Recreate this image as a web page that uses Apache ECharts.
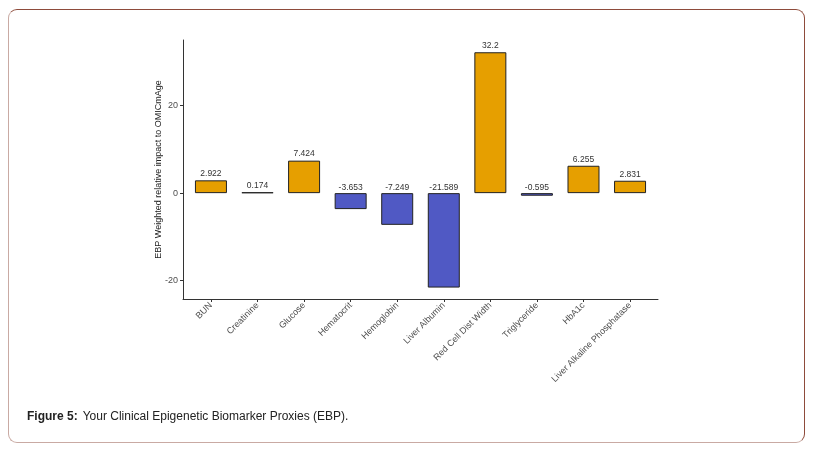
<!DOCTYPE html>
<html>
<head>
<meta charset="utf-8">
<script src="https://cdn.jsdelivr.net/npm/echarts@6/dist/echarts.min.js"></script>
<style>
html,body{margin:0;padding:0;background:#fff;}
#frame{position:absolute;left:8px;top:9px;width:797px;height:434px;box-sizing:border-box;
 border:1px solid #8e4b3b;border-left-color:#c9aaa3;border-bottom-color:#c9aaa3;border-radius:9px;}
#chart{position:absolute;left:0;top:0;width:813px;height:454px;}
</style>
</head>
<body>
<div id="frame"></div>
<div id="chart"></div>
<script>
var categories = ["BUN","Creatinine","Glucose","Hematocrit","Hemoglobin","Liver Albumin","Red Cell Dist Width","Triglyceride","HbA1c","Liver Alkaline Phosphatase"];
var values = [2.922, 0.174, 7.424, -3.653, -7.249, -21.589, 32.2, -0.595, 6.255, 2.831];
var yTicks = [-20, 0, 20];
var xTicks = categories.map(function(c, i){ return i; });

var chart = echarts.init(document.getElementById('chart'), null, {renderer:'canvas'});
var axisColor = '#333333';
var textColor = '#4d4d4d';
var option = {
  animation: false,
  title: {
    left: 27, top: 408, padding: 0,
    text: '{b|Figure 5:} {n|Your Clinical Epigenetic Biomarker Proxies (EBP).}',
    textStyle: {
      fontWeight: 'normal',
      rich: {
        b: {fontFamily:'Liberation Sans, Arial, sans-serif', fontWeight:'bold', fontSize:12, color:'#222'},
        n: {fontFamily:'Liberation Sans, Arial, sans-serif', fontWeight:'normal', fontSize:12, color:'#222'}
      }
    }
  },
  grid: {left:183, top:40, width:475, height:259, containLabel:false},
  xAxis: {
    type:'value', min:-0.6, max:9.6,
    splitLine:{show:false},
    axisLine:{show:true, onZero:false, lineStyle:{color:axisColor, width:1}},
    axisTick:{show:true, length:3, customValues:xTicks, lineStyle:{color:axisColor}},
    axisLabel:{show:true, customValues:xTicks, rotate:45, margin:5,
      fontFamily:'Liberation Sans, Arial, sans-serif', fontSize:9, color:textColor,
      formatter:function(v){ return categories[Math.round(v)]; }}
  },
  yAxis: {
    type:'value', min:-24.2, max:35,
    name:'EBP Weighted relative impact to OMICmAge',
    nameLocation:'middle', nameGap:20, nameRotate:90, nameMoveOverlap:false,
    nameTextStyle:{fontFamily:'Liberation Sans, Arial, sans-serif', fontSize:9, color:'#222'},
    splitLine:{show:false},
    axisLine:{show:true, onZero:false, lineStyle:{color:axisColor, width:1}},
    axisTick:{show:true, length:3, customValues:yTicks, lineStyle:{color:axisColor}},
    axisLabel:{show:true, customValues:yTicks, margin:5,
      fontFamily:'Liberation Sans, Arial, sans-serif', fontSize:9, color:textColor}
  },
  series: [{
    type:'bar',
    barWidth:32,
    data: values.map(function(v, i){
      return {value:[i, v], itemStyle:{color: v >= 0 ? '#E69F00' : '#5059C4'},
        label:{position: v >= 0 ? 'top' : 'insideTop', offset: v >= 0 ? [0,0] : [0,-12]}};
    }),
    itemStyle:{borderColor:'#222', borderWidth:1},
    label:{show:true, distance:2, fontFamily:'Liberation Sans, Arial, sans-serif', fontSize:8.5, color:'#333',
      formatter:function(p){ return String(p.value[1]); }}
  }]
};
chart.setOption(option);
</script>
</body>
</html>
